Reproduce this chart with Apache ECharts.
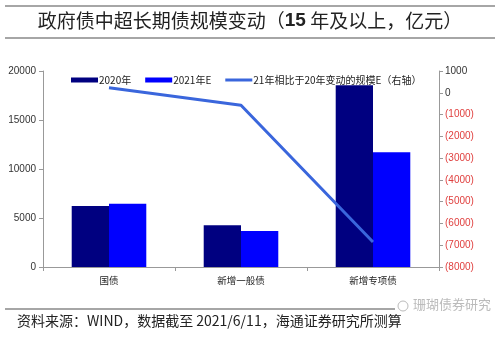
<!DOCTYPE html>
<html>
<head>
<meta charset="utf-8">
<script src="https://cdn.jsdelivr.net/npm/echarts@6/dist/echarts.min.js"></script>
<style>
  html, body { margin: 0; padding: 0; background: #fff; }
  #chart { width: 500px; height: 337px; }
</style>
</head>
<body>
<div id="chart"></div>
<script>
// Bond categories and issuance scale (亿元)
var categories = ['国债', '新增一般债', '新增专项债'];
var seriesNames = ['2020年', '2021年E', '21年相比于20年变动的规模E（右轴）'];
var scale2020 = [6220, 4250, 18550];
var scale2021E = [6450, 3680, 11700];
var changeE = [230, -570, -6850];

// Axis tick settings
var leftTicks = { min: 0, max: 20000, interval: 5000 };
var rightTicks = { min: -8000, max: 1000, interval: 1000 };

var FONT = '"Liberation Sans", Arial, "Noto Sans CJK SC", sans-serif';
var CJK = '"Noto Sans CJK SC", sans-serif';

var chart = echarts.init(document.getElementById('chart'));
chart.setOption({
  backgroundColor: '#fff',
  animation: false,
  textStyle: { fontFamily: FONT },
  grid: { left: 43, right: 61, top: 71, bottom: 70 },
  legend: {
    left: 66, top: 70,
    itemWidth: 27, itemHeight: 5, itemGap: 14,
    textStyle: { fontSize: 10, color: '#222', fontFamily: CJK, padding: [0, 0, 0, -4] },
    data: [
      { name: seriesNames[0], icon: 'rect' },
      { name: seriesNames[1], icon: 'rect' },
      { name: seriesNames[2], icon: 'path://M0,1H27V4H0Z' }
    ]
  },
  xAxis: {
    type: 'category',
    data: categories,
    axisLine: { lineStyle: { color: '#999' } },
    axisTick: { show: true, length: 4, lineStyle: { color: '#999' } },
    axisLabel: { fontSize: 9.5, color: '#222', fontFamily: CJK, margin: 9 }
  },
  yAxis: [
    {
      type: 'value',
      min: leftTicks.min, max: leftTicks.max, interval: leftTicks.interval,
      splitLine: { show: false },
      axisLine: { show: true, lineStyle: { color: '#999' } },
      axisTick: { show: true, length: 4, lineStyle: { color: '#999' } },
      axisLabel: { fontSize: 10, color: '#333', margin: 7, formatter: function (v) { return String(v); } }
    },
    {
      type: 'value',
      position: 'right',
      min: rightTicks.min, max: rightTicks.max, interval: rightTicks.interval,
      splitLine: { show: false },
      axisLine: { show: true, lineStyle: { color: '#999' } },
      axisTick: { show: true, length: 4, inside: false, lineStyle: { color: '#999' } },
      axisLabel: {
        fontSize: 10, margin: 6,
        formatter: function (v) {
          return v < 0 ? '{neg|(' + Math.abs(v) + ')}' : '{pos|' + v + '}';
        },
        rich: {
          neg: { color: '#e0403f', fontSize: 10, fontFamily: FONT },
          pos: { color: '#333', fontSize: 10, fontFamily: FONT }
        }
      }
    }
  ],
  series: [
    {
      name: seriesNames[0], type: 'bar', data: scale2020,
      barGap: '0%', barCategoryGap: '43.5%',
      itemStyle: { color: '#000080' }
    },
    {
      name: seriesNames[1], type: 'bar', data: scale2021E,
      itemStyle: { color: '#0000ff' }
    },
    {
      name: seriesNames[2], type: 'line', yAxisIndex: 1, data: changeE,
      symbol: 'none',
      lineStyle: { color: '#3a66dc', width: 3 },
      itemStyle: { color: '#3a66dc' }
    }
  ],
  graphic: [
    { type: 'line', shape: { x1: 5, y1: 6, x2: 495, y2: 6 }, style: { stroke: '#888', lineWidth: 1.5 } },
    { type: 'line', shape: { x1: 5, y1: 38, x2: 495, y2: 38 }, style: { stroke: '#888', lineWidth: 1.5 } },
    {
      type: 'text', left: 'center', top: 11,
      style: {
        text: '政府债中超长期债规模变动（{b|15} 年及以上，亿元）',
        fontSize: 19, fill: '#222', fontFamily: CJK,
        rich: { b: { fontSize: 19, fontWeight: 'bold', fontFamily: FONT, fill: '#222' } }
      }
    },
    { type: 'line', shape: { x1: 5, y1: 309, x2: 395, y2: 309 }, style: { stroke: '#888', lineWidth: 1.5 } },
    {
      type: 'text', left: 17, top: 314,
      style: { text: '资料来源：WIND，数据截至 2021/6/11，海通证券研究所测算', fontSize: 14, fill: '#222', fontFamily: CJK }
    },
    {
      type: 'text', left: 413, top: 298,
      style: { text: '珊瑚债券研究', fontSize: 13, fill: '#aaa', fontFamily: CJK, opacity: 0.8 }
    },
    {
      type: 'circle', shape: { cx: 403, cy: 306, r: 5 },
      style: { fill: 'none', stroke: '#bbb', lineWidth: 1 }
    }
  ]
});
</script>
</body>
</html>
